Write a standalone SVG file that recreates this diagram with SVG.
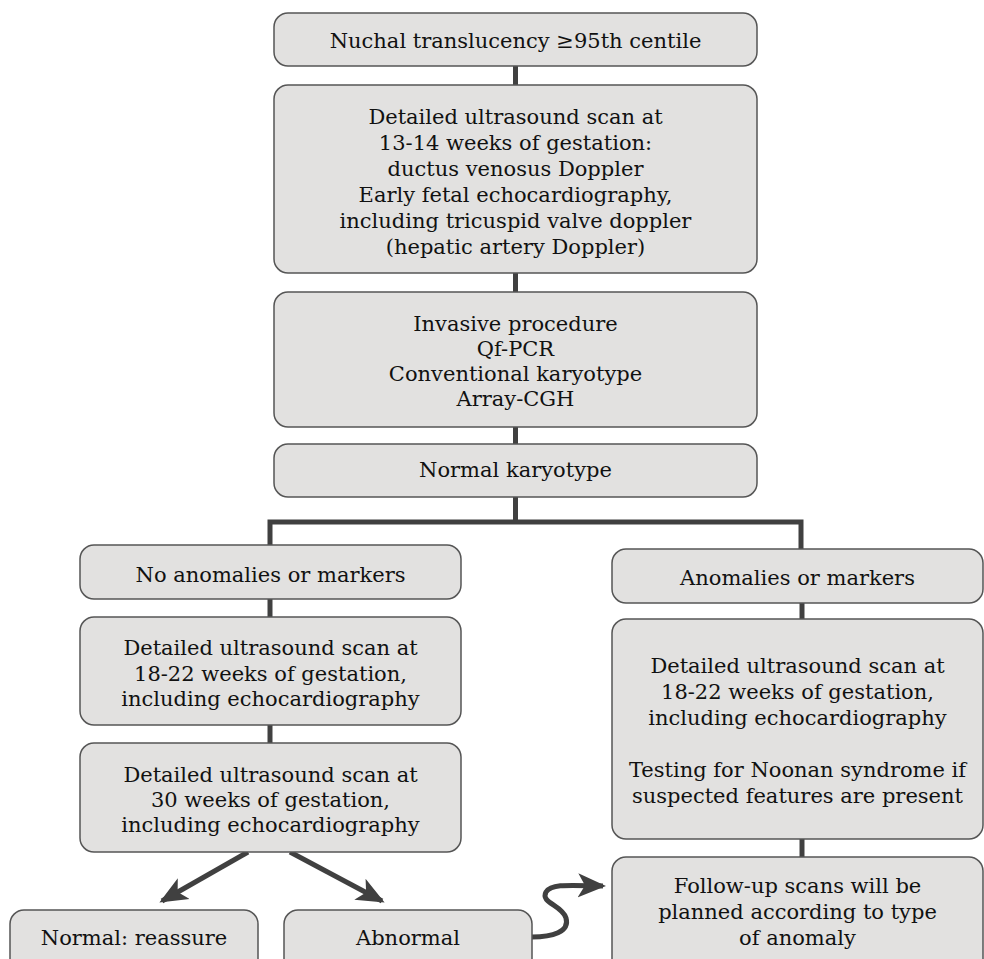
<svg xmlns="http://www.w3.org/2000/svg" width="984" height="959" viewBox="0 0 984 959">
<style>
.box{fill:#e2e1e0;stroke:#555;stroke-width:1.5}
text{font-family:"DejaVu Serif","Liberation Serif",serif;font-size:21px;fill:#111;text-anchor:middle}
.ln{stroke:#404040;stroke-width:5;fill:none}
</style>
<defs>
<marker id="ah" markerUnits="userSpaceOnUse" markerWidth="28" markerHeight="28" refX="25" refY="14" orient="auto">
<path d="M0,2 L28,14 L0,26 L7,14 z" fill="#404040"/>
</marker>
</defs>
<g id="connectors">
<line class="ln" x1="515.5" y1="66" x2="515.5" y2="85"/>
<line class="ln" x1="515.5" y1="273" x2="515.5" y2="292"/>
<line class="ln" x1="515.5" y1="427" x2="515.5" y2="444"/>
<line class="ln" x1="515.5" y1="497" x2="515.5" y2="522"/>
<polyline class="ln" points="270,545 270,522 801,522 801,549"/>
<line class="ln" x1="270" y1="599" x2="270" y2="617"/>
<line class="ln" x1="270" y1="725" x2="270" y2="743"/>
<line class="ln" x1="802" y1="603" x2="802" y2="619"/>
<line class="ln" x1="802" y1="839" x2="802" y2="857"/>
<line class="ln" x1="248" y1="852" x2="162" y2="901" marker-end="url(#ah)"/>
<line class="ln" x1="290" y1="852" x2="382" y2="901" marker-end="url(#ah)"/>
<path class="ln" d="M532,937 C552,937 570,932 566,918 C562,905 540,903 546,892 C551,884 565,885 603,886" marker-end="url(#ah)"/>
</g>
<g id="n1"><rect class="box" x="274" y="13" width="483" height="53" rx="14"/><text x="515.5" y="48">Nuchal translucency ≥95th centile</text></g>
<g id="n2"><rect class="box" x="274" y="85" width="483" height="188" rx="14"/>
<text x="515.5" y="124">Detailed ultrasound scan at</text>
<text x="515.5" y="150">13-14 weeks of gestation:</text>
<text x="515.5" y="176">ductus venosus Doppler</text>
<text x="515.5" y="202">Early fetal echocardiography,</text>
<text x="515.5" y="228">including tricuspid valve doppler</text>
<text x="515.5" y="254">(hepatic artery Doppler)</text></g>
<g id="n3"><rect class="box" x="274" y="292" width="483" height="135" rx="14"/>
<text x="515.5" y="331">Invasive procedure</text>
<text x="515.5" y="356">Qf-PCR</text>
<text x="515.5" y="381">Conventional karyotype</text>
<text x="515.5" y="406">Array-CGH</text></g>
<g id="n4"><rect class="box" x="274" y="444" width="483" height="53" rx="14"/><text x="515.5" y="477">Normal karyotype</text></g>
<g id="n5"><rect class="box" x="80" y="545" width="381" height="54" rx="14"/><text x="270.5" y="582">No anomalies or markers</text></g>
<g id="n6"><rect class="box" x="80" y="617" width="381" height="108" rx="14"/>
<text x="270.5" y="655">Detailed ultrasound scan at</text>
<text x="270.5" y="681">18-22 weeks of gestation,</text>
<text x="270.5" y="706">including echocardiography</text></g>
<g id="n7"><rect class="box" x="80" y="743" width="381" height="109" rx="14"/>
<text x="270.5" y="782">Detailed ultrasound scan at</text>
<text x="270.5" y="807">30 weeks of gestation,</text>
<text x="270.5" y="832">including echocardiography</text></g>
<g id="n8"><rect class="box" x="10" y="910" width="248" height="70" rx="14"/><text x="134" y="945">Normal: reassure</text></g>
<g id="n9"><rect class="box" x="284" y="910" width="248" height="70" rx="14"/><text x="408" y="945">Abnormal</text></g>
<g id="n10"><rect class="box" x="612" y="549" width="371" height="54" rx="14"/><text x="797.5" y="585">Anomalies or markers</text></g>
<g id="n11"><rect class="box" x="612" y="619" width="371" height="220" rx="14"/>
<text x="797.5" y="673">Detailed ultrasound scan at</text>
<text x="797.5" y="699">18-22 weeks of gestation,</text>
<text x="797.5" y="725">including echocardiography</text>
<text x="797.5" y="777">Testing for Noonan syndrome if</text>
<text x="797.5" y="803">suspected features are present</text></g>
<g id="n12"><rect class="box" x="612" y="857" width="371" height="120" rx="14"/>
<text x="797.5" y="893">Follow-up scans will be</text>
<text x="797.5" y="919">planned according to type</text>
<text x="797.5" y="945">of anomaly</text></g>
</svg>
